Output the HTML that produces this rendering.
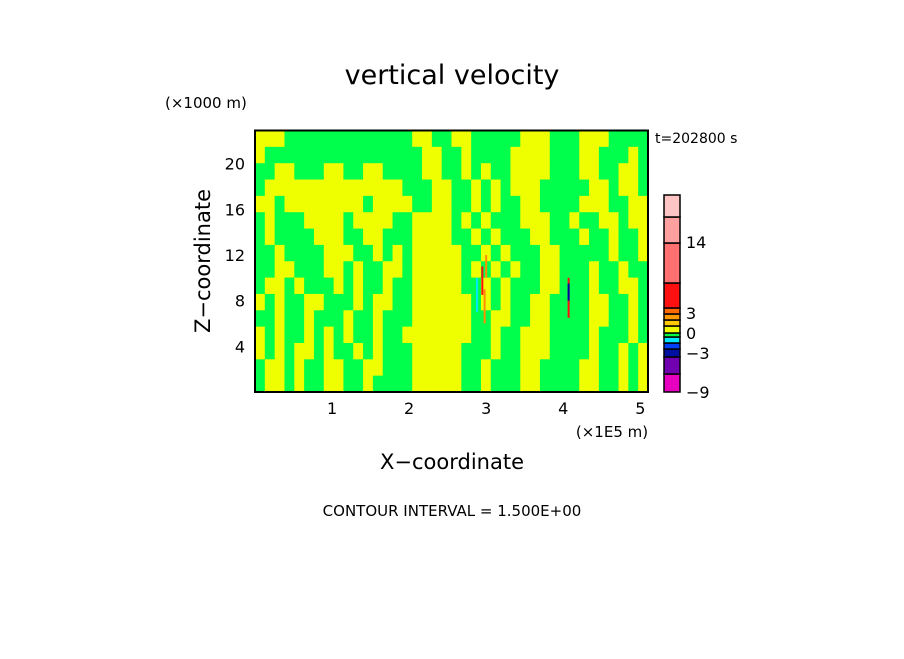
<!DOCTYPE html>
<html><head><meta charset="utf-8"><style>
body{margin:0;background:#fff;}
svg text{font-family:"DejaVu Sans","Liberation Sans",sans-serif;fill:#000;}
</style></head><body>
<svg id="chart" width="904" height="654" xmlns="http://www.w3.org/2000/svg">
<rect width="904" height="654" fill="#fff"/>
<text x="452" y="84" font-size="27" text-anchor="middle">vertical velocity</text>
<text x="165" y="108" font-size="15">(×1000 m)</text>
<text x="655" y="143" font-size="14">t=202800 s</text>
<g id="field"></g>
<g id="spikes"></g>
<rect x="255" y="130.5" width="393" height="261.5" fill="none" stroke="#000" stroke-width="2"/>
<g id="yticks"></g>
<g id="xticks"></g>
<text x="612" y="437" font-size="15" text-anchor="middle">(×1E5 m)</text>
<text x="452" y="469" font-size="21" text-anchor="middle">X−coordinate</text>
<text x="0" y="0" font-size="21" text-anchor="middle" transform="translate(210,261) rotate(-90)">Z−coordinate</text>
<text x="452" y="516" font-size="15" text-anchor="middle">CONTOUR INTERVAL = 1.500E+00</text>
<g id="cbar"></g>
</svg>
<script>
const rows = [
"YYYGGGGGGGGGGGGGYYGGYYGGGGGYYYGGGYYYGGGG",
"YGGGGGGGGGGGGGGGGYYGGYGGGGYYYYGGGYYGGGYG",
"GGYYGGGYYGGYYGGGGYYGGYGYGGYYYYGGGYYGGYYG",
"GYYYYYYYYYYYYYYGGGYYGGYGYGYYYGGGGGYYGYYG",
"YYGYYYYYYYYGYYYYGGYYGGYGYGGYYGGGGYYYGGYY",
"GYGGGYYYYGYYYYGGYYYYGYGYGGGYYYGGYGGYYGYY",
"GYGGGGYYYGGYYGGGYYYYGGYGYGGGYYGGGYGGYGGY",
"GGYGGGGYYYGGYGYGYYYYYGGYGYGGGYYGGGGGYGGY",
"GGYYGGGYYGYGGYYGYYYYYGYGYGYGGYYGGGYGGYGG",
"GYYGYGGGYGYGGYGGYYYYYGGYGYGGGYYGGGYGGYYG",
"YGYGGYYGGGYGYYGGYYYYYYGYGYGGYYGGGGYYGGYG",
"GGYGGYGGGYGGYGGGYYYYYYGGYYGGYYGGGGYYGGYG",
"YGYGGYGYGYGGYGGYYYYYYYGGYGGYYYGGGGYGGGYG",
"YGYGYYGYGGYGYGGGYYYYYGGGYGGYYYGGGGYGGYGY",
"GYYGYGGYYGGYYGGGYYYYYGGYGGGYYGGGGYYGGYGY",
"GYYGYGGYYGGYGGGGYYYYYGGYGGGYYGGGGYYGGYGY"];
const xTicks = [1,2,3,4,5];
const yTicks = [4,8,12,16,20];
const spikeX = [2.95, 2.98, 2.88, 3.0, 4.07, 4.07];
const spikeZ0 = [8.5, 6, 7, 10, 6.5, 8];
const spikeZ1 = [11, 9, 10, 12, 10, 9.5];
const spikeCol = ["#ff1010","#ff9000","#00e8ff","#ff9000","#ff1010","#0000a0"];
// colorbar band boundaries on the bar's display scale
const cbLevels = [-9,-4.5,-0.25,1.75,3.25,4.75,5.75,7.5,9,10.5,12,18.25,28.25,34.75,40.25];
const cbColors = ["#e800c0","#7000b0","#0010a0","#0040ff","#00e8ff","#00ff40","#f0ff00","#ffc800","#ff9a00","#ff6a00","#ff1010","#ff7070","#ffa0a0","#ffc4c4"];
const cbLabels = ["−9","−3","0","3","14"];
const cbLabelVal = [-9,0.75,5.75,10.75,28.5];
const NS="http://www.w3.org/2000/svg";
const X0=255,X1=648,XMAX=5.1,Y0=392,Y1=130.5,ZMAX=22.9;
const sx=v=>X0+v/XMAX*(X1-X0);
const sz=v=>Y0-v/ZMAX*(Y0-Y1);
function mk(tag,attrs,parent){const e=document.createElementNS(NS,tag);for(const k in attrs)e.setAttribute(k,attrs[k]);parent.appendChild(e);return e;}
const field=document.getElementById('field');
const nr=rows.length,nc=rows[0].length;
const cw=(X1-X0)/nc,ch=(Y0-Y1)/nr;
rows.forEach((r,i)=>{for(let j=0;j<nc;j++){
 const c=mk('rect',{x:X0+j*cw,y:Y1+i*ch,width:cw+0.5,height:ch+0.5,fill:r[j]==='Y'?'#f0ff00':'#00ff4c'},field);
 
 
}});
const sp=document.getElementById('spikes');
spikeX.forEach((x,i)=>{
 const r=mk('rect',{x:sx(x)-1,y:sz(spikeZ1[i]),width:2,height:sz(spikeZ0[i])-sz(spikeZ1[i]),fill:spikeCol[i]},sp);
 
 
});
const yt=document.getElementById('yticks');
yTicks.forEach(v=>{const t=mk('text',{x:245,y:sz(v)+6,'font-size':16,'text-anchor':'end'},yt);t.textContent=v;
 
 });
const xt=document.getElementById('xticks');
xTicks.forEach(v=>{const t=mk('text',{x:sx(v),y:414,'font-size':16,'text-anchor':'middle'},xt);t.textContent=v;
 
 });
const cb=document.getElementById('cbar');
const CB0=392,CB1=195,L0=cbLevels[0],L1=cbLevels[cbLevels.length-1];
const cy=v=>CB0-(v-L0)/(L1-L0)*(CB0-CB1);
for(let i=0;i<cbColors.length;i++){
 const top=cy(cbLevels[i+1]);
 const r=mk('rect',{x:664,y:top,width:16,height:cy(cbLevels[i])-top,fill:cbColors[i],stroke:'#000','stroke-width':1.5},cb);
 
 
}
cbLabels.forEach((v,i)=>{const t=mk('text',{x:686,y:cy(cbLabelVal[i])+6,'font-size':16},cb);t.textContent=v;
 
 });
</script>
</body></html>
